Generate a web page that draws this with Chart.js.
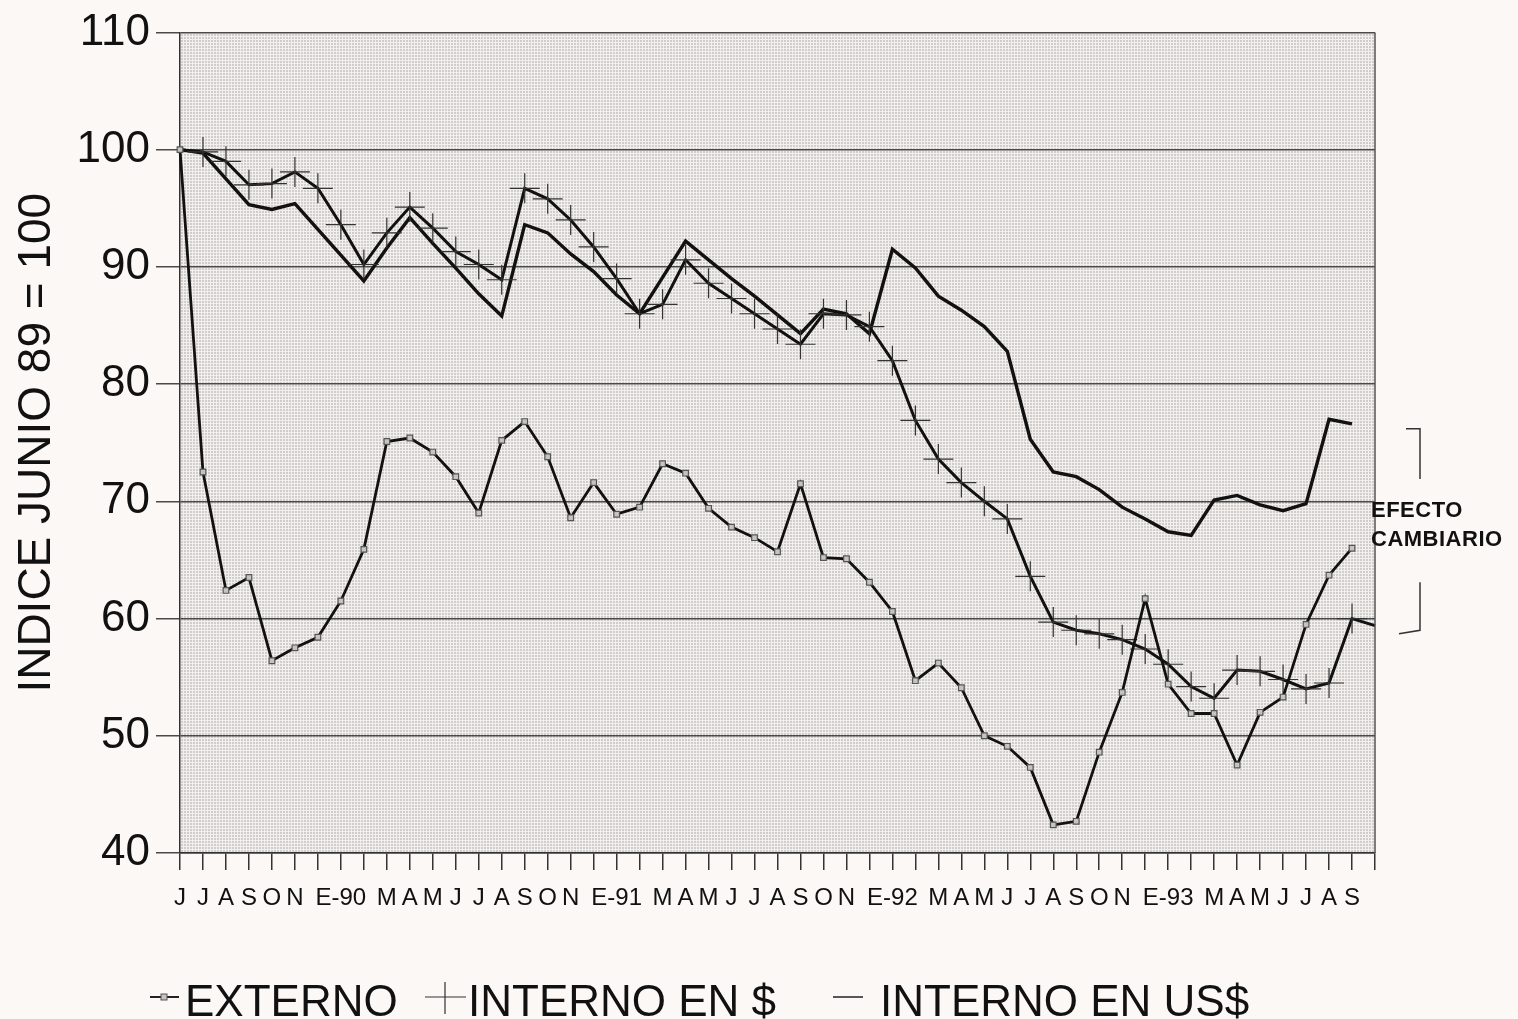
<!DOCTYPE html>
<html>
<head>
<meta charset="utf-8">
<script src="https://cdn.jsdelivr.net/npm/chart.js@4.4.0/dist/chart.umd.min.js"></script>
<style>
  html, body { margin: 0; padding: 0; background: #fbf8f5; }
  canvas { display: block; }
</style>
</head>
<body>
<canvas id="grafico" width="1518" height="1019"></canvas>
<script>
// meses jun-89 .. oct-93 (D y F sin rotulo, como en el original)
const meses = ['J','J','A','S','O','N','','E-90','','M','A','M','J','J','A','S','O','N','','E-91','','M','A','M',
  'J','J','A','S','O','N','','E-92','','M','A','M','J','J','A','S','O','N','','E-93','','M','A','M','J','J','A','S',''];

const externo = [100, 72.5, 62.4, 63.5, 56.4, 57.5, 58.4, 61.5, 65.9, 75.1, 75.4, 74.2, 72.1, 69.0, 75.2, 76.8,
  73.8, 68.6, 71.6, 68.9, 69.5, 73.2, 72.4, 69.4, 67.8, 66.9, 65.7, 71.5, 65.2, 65.1, 63.1, 60.6, 54.7, 56.2,
  54.1, 50.0, 49.1, 47.3, 42.4, 42.7, 48.6, 53.7, 61.7, 54.4, 51.9, 51.9, 47.5, 52.0, 53.3, 59.5, 63.7, 66.0];

const internoPesos = [100, 99.8, 99.0, 97.0, 97.1, 98.1, 96.7, 93.6, 90.2, 92.9, 95.1, 93.3, 91.3, 90.2, 88.9,
  96.7, 95.8, 94.0, 91.7, 89.0, 86.0, 86.8, 90.6, 88.6, 87.3, 86.0, 84.7, 83.4, 86.0, 85.9, 84.9, 82.0, 76.9,
  73.6, 71.6, 70.0, 68.5, 63.6, 59.7, 59.0, 58.7, 58.2, 57.4, 56.1, 54.2, 53.2, 55.6, 55.5, 54.8, 54.0, 54.5,
  60.0, 59.4];

const internoDolares = [100, 99.7, 97.5, 95.3, 94.9, 95.4, 93.2, 91.0, 88.8, 91.6, 94.2, 92.0, 89.9, 87.7, 85.8,
  93.6, 92.9, 91.1, 89.6, 87.6, 86.0, 89.1, 92.2, 90.6, 89.0, 87.5, 85.9, 84.3, 86.4, 86.0, 84.3, 91.5, 89.9,
  87.5, 86.3, 84.9, 82.8, 75.3, 72.5, 72.1, 71.0, 69.5, 68.5, 67.4, 67.1, 70.1, 70.5, 69.7, 69.2, 69.8, 77.0,
  76.6];

const FUENTE = '"Liberation Sans", Arial, Helvetica, sans-serif';

function tramaPuntos(ctx) {
  const c = document.createElement('canvas');
  c.width = 3; c.height = 3;
  const g = c.getContext('2d');
  g.fillStyle = '#f2efec';
  g.fillRect(0, 0, 3, 3);
  g.fillStyle = '#d0cecc';
  g.fillRect(1, 1, 2, 2);
  return ctx.createPattern(c, 'repeat');
}

const fondo = {
  id: 'fondo',
  beforeDraw(chart) {
    const { ctx, chartArea: a } = chart;
    ctx.save();
    ctx.fillStyle = '#fbf8f5';
    ctx.fillRect(0, 0, chart.width, chart.height);
    ctx.fillStyle = tramaPuntos(ctx);
    ctx.fillRect(a.left, a.top, a.right - a.left, a.bottom - a.top);
    ctx.restore();
  }
};

const extras = {
  id: 'extras',
  afterDraw(chart) {
    const { ctx, chartArea: a } = chart;
    const y = chart.scales.y;
    ctx.save();
    // borde derecho
    ctx.strokeStyle = '#555';
    ctx.lineWidth = 1.5;
    ctx.beginPath();
    ctx.moveTo(a.right, a.top);
    ctx.lineTo(a.right, a.bottom);
    ctx.stroke();

    // efecto cambiario
    ctx.fillStyle = '#111';
    ctx.font = 'bold 22px ' + FUENTE;
    ctx.letterSpacing = '0.5px';
    ctx.textBaseline = 'middle';
    ctx.fillText('EFECTO', a.right - 4, y.getPixelForValue(69.2));
    ctx.fillText('CAMBIARIO', a.right - 4, y.getPixelForValue(66.7));
    ctx.letterSpacing = '0px';
    ctx.strokeStyle = '#333';
    ctx.lineWidth = 1.5;
    ctx.beginPath();
    ctx.moveTo(a.right + 31, y.getPixelForValue(76.2));
    ctx.lineTo(a.right + 45, y.getPixelForValue(76.2));
    ctx.lineTo(a.right + 45, y.getPixelForValue(71.9));
    ctx.moveTo(a.right + 45, y.getPixelForValue(63.1));
    ctx.lineTo(a.right + 45, y.getPixelForValue(59.0));
    ctx.lineTo(a.right + 24, y.getPixelForValue(58.7));
    ctx.stroke();

    // leyenda
    const yl = 997;
    ctx.font = '44px ' + FUENTE;
    ctx.textBaseline = 'alphabetic';
    ctx.fillStyle = '#111';
    ctx.strokeStyle = '#222';
    // EXTERNO
    ctx.lineWidth = 2;
    ctx.beginPath();
    ctx.moveTo(150, yl); ctx.lineTo(179, yl);
    ctx.stroke();
    ctx.fillStyle = '#c4c4c0';
    ctx.fillRect(161, yl - 3, 6, 6);
    ctx.strokeStyle = '#555';
    ctx.lineWidth = 1;
    ctx.strokeRect(161, yl - 3, 6, 6);
    ctx.fillStyle = '#111';
    ctx.fillText(chart.data.datasets[0].label, 185, 1016);
    // INTERNO EN $
    ctx.strokeStyle = '#333';
    ctx.lineWidth = 1.2;
    ctx.beginPath();
    ctx.moveTo(425, yl); ctx.lineTo(466, yl);
    ctx.moveTo(445, 982); ctx.lineTo(445, 1014);
    ctx.stroke();
    ctx.fillText(chart.data.datasets[1].label, 468, 1016);
    // INTERNO EN US$
    ctx.strokeStyle = '#222';
    ctx.lineWidth = 1.5;
    ctx.beginPath();
    ctx.moveTo(833, yl); ctx.lineTo(863, yl);
    ctx.stroke();
    ctx.fillText(chart.data.datasets[2].label, 880, 1016);
    ctx.restore();
  }
};

const ctx = document.getElementById('grafico').getContext('2d');
new Chart(ctx, {
  type: 'line',
  data: {
    labels: meses,
    datasets: [
      {
        label: 'EXTERNO',
        data: externo,
        borderColor: '#111',
        borderWidth: 2.8,
        pointStyle: 'rect',
        pointRadius: 4,
        pointBackgroundColor: '#c4c4c0',
        pointBorderColor: '#555',
        pointBorderWidth: 1.2,
        tension: 0
      },
      {
        label: 'INTERNO EN $',
        data: internoPesos,
        borderColor: '#111',
        borderWidth: 3,
        pointStyle: 'cross',
        pointRadius: c => (c.dataIndex === 0 || c.dataIndex === internoPesos.length - 1) ? 0 : 15,
        pointBorderColor: '#333',
        pointBorderWidth: 1.2,
        tension: 0
      },
      {
        label: 'INTERNO EN US$',
        data: internoDolares,
        borderColor: '#111',
        borderWidth: 3.4,
        pointRadius: 0,
        tension: 0
      }
    ]
  },
  options: {
    responsive: false,
    animation: false,
    devicePixelRatio: 1,
    layout: { padding: { top: 32, right: 143, bottom: 101, left: 0 } },
    plugins: { legend: { display: false }, tooltip: { enabled: false } },
    scales: {
      x: {
        grid: { drawOnChartArea: false, drawTicks: true, tickLength: 17, color: '#333', lineWidth: 1.5 },
        border: { display: true, color: '#333', width: 1.5 },
        ticks: {
          autoSkip: false, maxRotation: 0, minRotation: 0, padding: 14, color: '#111',
          font: { family: FUENTE, size: 24 }
        },
        afterFit: s => { s.height = 65; }
      },
      y: {
        min: 40,
        max: 110,
        ticks: { stepSize: 10, padding: 6, color: '#111', font: { family: FUENTE, size: 44 } },
        grid: { color: '#4a4a4a', lineWidth: 1.5, tickLength: 24 },
        border: { color: '#333', width: 1.5 },
        title: {
          display: true,
          text: 'INDICE JUNIO 89 = 100',
          color: '#111',
          font: { family: FUENTE, size: 46 },
          padding: { top: 10, bottom: 0 }
        },
        afterFit: s => { s.width = 180; }
      }
    }
  },
  plugins: [fondo, extras]
});
</script>
</body>
</html>
